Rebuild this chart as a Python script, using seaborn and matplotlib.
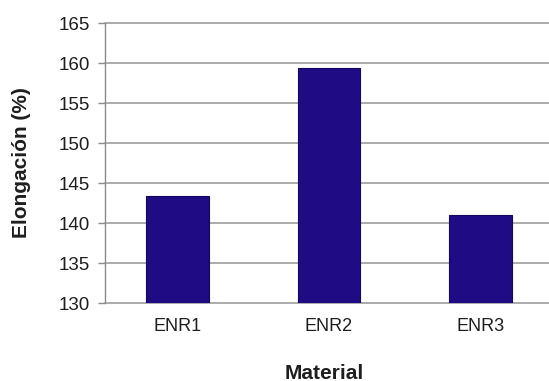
import matplotlib
matplotlib.use("Agg")
import matplotlib.pyplot as plt
import seaborn as sns
import pandas as pd

# Elongation at break per material
materials = ["ENR1", "ENR2", "ENR3"]
elongation = [143.4, 159.4, 141.0]
y_ticks = [130, 135, 140, 145, 150, 155, 160, 165]

sns.set_theme(style="white")
plt.rcParams["font.family"] = ["Liberation Sans", "DejaVu Sans"]

df = pd.DataFrame({"Material": materials, "Elongación": elongation})

fig = plt.figure(figsize=(5.49, 3.81), dpi=100)
ax = fig.add_axes([0.191, 0.2047, 0.809, 0.7349])

sns.barplot(data=df, x="Material", y="Elongación", color="#1f0b84",
            saturation=1, width=0.41, edgecolor="#14065a", linewidth=0.8,
            ax=ax, zorder=3)

ax.set_ylim(130, 165)
ax.set_yticks(y_ticks)
ax.set_xlim(-0.479, 2.452)

ax.yaxis.grid(True, color="#949494", linewidth=1.1, zorder=0)
for gl in ax.get_ygridlines():
    gl.set_clip_on(False)
ax.xaxis.grid(False)
ax.set_axisbelow(True)

for side in ["top", "right", "bottom"]:
    ax.spines[side].set_visible(False)
ax.spines["left"].set_color("#8a8a8a")
ax.spines["left"].set_linewidth(1.0)

ax.tick_params(axis="y", which="major", left=True, length=5, width=1.0,
               color="#8a8a8a", pad=6, labelsize=13.5, labelcolor="#1e1e1e")
ax.tick_params(axis="x", which="major", bottom=False, pad=5,
               labelsize=13, labelcolor="#1e1e1e")

ax.set_xlabel("Material", fontsize=15, fontweight="bold", color="#1e1e1e")
ax.set_ylabel("Elongación (%)", fontsize=15, fontweight="bold", color="#1e1e1e")
ax.xaxis.set_label_coords(0.493, -0.25)
ax.yaxis.set_label_coords(-0.188, 0.5)
ax.xaxis.label.set_va("center")
ax.yaxis.label.set_va("center")

fig.savefig("out.png", dpi=100, facecolor="white")
